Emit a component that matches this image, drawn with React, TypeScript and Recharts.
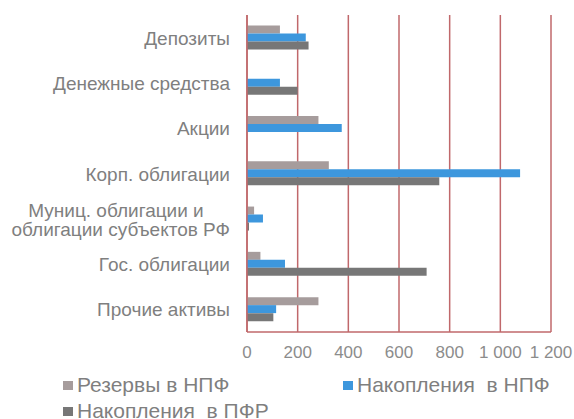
import React from "react";
import { BarChart, Bar, XAxis, YAxis, CartesianGrid, Legend } from "recharts";

const categories = [
  "Депозиты",
  "Денежные средства",
  "Акции",
  "Корп. облигации",
  "Муниц. облигации и|облигации субъектов РФ",
  "Гос. облигации",
  "Прочие активы",
];
const reservesNPF = [130, 0, 282, 323, 28, 53, 282];
const savingsNPF = [232, 130, 374, 1078, 63, 150, 115];
const savingsPFR = [243, 200, 0, 759, 8, 709, 104];
const xTicks = [0, 200, 400, 600, 800, 1000, 1200];

const seriesNames = ["Резервы в НПФ", "Накопления  в НПФ", "Накопления  в ПФР"];
const seriesColors = ["#a69c9c", "#3d97dd", "#777777"];

const data = categories.map((c, i) => ({
  name: c,
  r: reservesNPF[i],
  n: savingsNPF[i],
  p: savingsPFR[i],
}));

const FONT = "'Liberation Sans', Arial, sans-serif";

const fmt = (v: number) => String(v).replace(/\B(?=(\d{3})+(?!\d))/g, " ");

const YTick = (props: any) => {
  const { y, payload } = props;
  const x = 230;
  const lines = String(payload.value).split("|");
  if (lines.length === 1) {
    return (
      <text x={x} y={y} dy={7} textAnchor="end" fill="#7f7f7f" fontSize={19} fontFamily={FONT}>
        {lines[0]}
      </text>
    );
  }
  return (
    <g>
      <text x={x - 114} y={y - 2} textAnchor="middle" fill="#7f7f7f" fontSize={19} fontFamily={FONT}>
        {lines[0]}
      </text>
      <text x={x} y={y + 17} textAnchor="end" fill="#7f7f7f" fontSize={19} fontFamily={FONT}>
        {lines[1]}
      </text>
    </g>
  );
};

const XTick = (props: any) => {
  const { x, y, payload } = props;
  return (
    <text x={x} y={y} dy={18} textAnchor="middle" fill="#8c8c8c" fontSize={17} fontFamily={FONT}>
      {fmt(payload.value)}
    </text>
  );
};

const LegendContent = () => {
  const item = (i: number, left: number, top: number) => (
    <div
      key={i}
      style={{
        position: "absolute",
        left,
        top,
        display: "flex",
        alignItems: "center",
        whiteSpace: "pre",
        fontFamily: FONT,
        fontSize: 21,
        color: "#7f7f7f",
        lineHeight: "24px",
      }}
    >
      <span style={{ display: "inline-block", width: 10, height: 9, background: seriesColors[i], marginRight: 4 }} />
      {seriesNames[i]}
    </div>
  );
  return (
    <div style={{ position: "relative", width: 574, height: 60 }}>
      {item(0, 63, 0)}
      {item(1, 343, 0)}
      {item(2, 63, 26)}
    </div>
  );
};

export default function App() {
  return (
    <div style={{ position: "absolute", left: 0, top: 0, width: 574, height: 419, background: "#fff", overflow: "hidden" }}>
      <BarChart
        width={574}
        height={419}
        data={data}
        layout="vertical"
        margin={{ top: 15, right: 23, bottom: 57, left: 0 }}
        barCategoryGap="23%"
        barGap={0}
      >
        <CartesianGrid horizontal={false} vertical={true} stroke="#c0686b" strokeWidth={1.5} />
        <XAxis
          type="number"
          domain={[0, 1200]}
          ticks={xTicks}
          height={30}
          tickLine={false}
          axisLine={{ stroke: "#c0686b", strokeWidth: 1.5 }}
          tick={<XTick />}
          interval={0}
        />
        <YAxis
          type="category"
          dataKey="name"
          width={247}
          tickLine={false}
          axisLine={{ stroke: "#c0686b", strokeWidth: 1.5 }}
          tick={<YTick />}
          interval={0}
        />
        <Legend
          layout="horizontal"
          verticalAlign="middle"
          align="center"
          content={<LegendContent />}
          wrapperStyle={{ position: "absolute", left: 0, top: 373, width: 574, height: 46 }}
        />
        <Bar dataKey="r" name={seriesNames[0]} fill={seriesColors[0]} isAnimationActive={false} />
        <Bar dataKey="n" name={seriesNames[1]} fill={seriesColors[1]} isAnimationActive={false} />
        <Bar dataKey="p" name={seriesNames[2]} fill={seriesColors[2]} isAnimationActive={false} />
      </BarChart>
    </div>
  );
}
